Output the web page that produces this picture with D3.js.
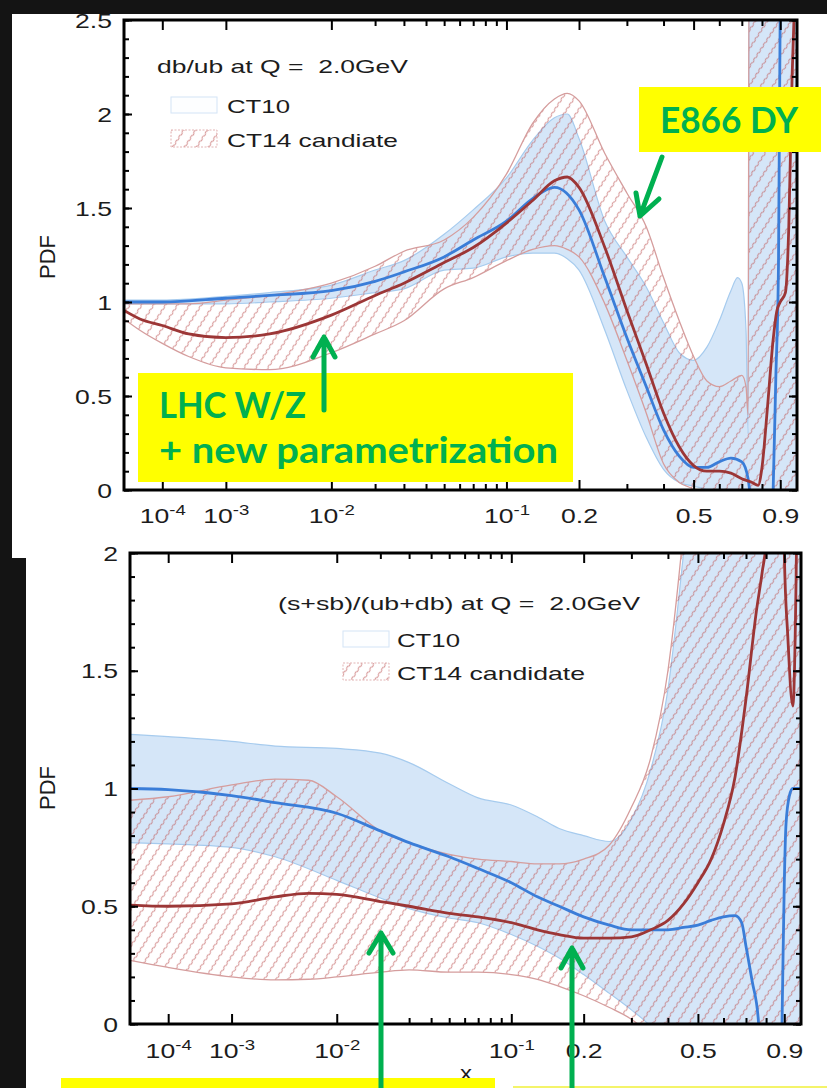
<!DOCTYPE html>
<html>
<head>
<style>
  body { margin: 0; background: #141414; }
  svg text { font-family: "Liberation Sans", Arial, sans-serif; fill: #1c1c1c; }
  svg text.note { font-family: Lato, "Noto Sans", sans-serif; font-weight: bold; fill: #00b050; }
</style>
<script src="https://d3js.org/d3.v7.min.js"></script>
</head>
<body>
<svg width="827" height="1088"></svg>
<script>
// ---------- db/ub panel (top) ----------
var dbubCT10X  = [1e-5, 1e-4, 1e-3, 3e-3, 0.01, 0.02, 0.03, 0.05, 0.07, 0.1, 0.13, 0.16, 0.18, 0.2, 0.25, 0.3, 0.35, 0.4, 0.45, 0.5, 0.55, 0.6, 0.65, 0.68, 0.7, 0.72, 0.73, 0.735, 0.8, 0.9, 1];
var dbubCT10Hi = [1.01, 1.01, 1.03, 1.05, 1.09, 1.17, 1.22, 1.36, 1.49, 1.66, 1.86, 1.98, 2.0, 1.87, 1.43, 1.24, 1.08, 0.89, 0.73, 0.69, 0.76, 0.90, 1.06, 1.13, 1.10, 0.85, 0.3, 3.0, 3.0, 3.0, 3.0];
var dbubCT10Lo = [0.99, 0.99, 0.99, 1.0, 1.02, 1.05, 1.07, 1.17, 1.18, 1.24, 1.26, 1.26, 1.23, 1.17, 0.85, 0.53, 0.28, 0.11, 0.04, 0.02, 0.0, -0.1, -0.2, -0.2, -0.2, -0.2, -0.2, -0.2, -0.2, -0.2, -0.2];
var dbubCT10MidX = [1e-5, 1e-4, 1e-3, 3e-3, 0.01, 0.02, 0.03, 0.05, 0.07, 0.1, 0.13, 0.16, 0.2, 0.25, 0.3, 0.35, 0.4, 0.45, 0.5, 0.55, 0.6, 0.65, 0.7, 0.73, 0.76, 0.8, 0.86, 0.875, 0.89, 0.9, 0.95, 1];
var dbubCT10Mid  = [1.0, 1.0, 1.02, 1.035, 1.06, 1.11, 1.16, 1.24, 1.33, 1.43, 1.55, 1.61, 1.49, 1.13, 0.81, 0.55, 0.32, 0.18, 0.12, 0.12, 0.15, 0.17, 0.15, 0.06, -0.3, -1.0, 0.0, 0.6, 1.2, 2.6, 5, 5];
var dbubCT14X  = [1e-5, 3e-5, 1e-4, 3e-4, 1e-3, 3e-3, 0.01, 0.02, 0.03, 0.05, 0.07, 0.1, 0.13, 0.16, 0.18, 0.2, 0.25, 0.3, 0.35, 0.4, 0.45, 0.5, 0.55, 0.6, 0.65, 0.7, 0.72, 0.73, 0.735, 0.8, 0.9, 1];
var dbubCT14Hi = [0.99, 0.99, 0.99, 0.99, 1.01, 1.035, 1.10, 1.19, 1.27, 1.33, 1.45, 1.68, 1.95, 2.08, 2.11, 2.07, 1.79, 1.58, 1.40, 1.13, 0.90, 0.71, 0.58, 0.55, 0.58, 0.61, 0.55, 0.4, 3.0, 3.0, 3.0, 3.0];
var dbubCT14Lo = [0.91, 0.85, 0.78, 0.71, 0.65, 0.64, 0.73, 0.83, 0.90, 1.07, 1.13, 1.22, 1.28, 1.30, 1.28, 1.24, 0.99, 0.69, 0.41, 0.14, 0.04, 0.0, -0.1, -0.2, -0.2, -0.2, -0.2, -0.2, -0.2, -0.2, -0.2, -0.2];
var dbubCT14MidX = [1e-5, 3e-5, 1e-4, 3e-4, 1e-3, 3e-3, 0.01, 0.02, 0.03, 0.05, 0.07, 0.1, 0.13, 0.16, 0.18, 0.2, 0.25, 0.3, 0.35, 0.4, 0.45, 0.5, 0.55, 0.6, 0.65, 0.7, 0.75, 0.78, 0.8, 0.83, 0.86, 0.88, 0.9, 0.93, 0.95, 0.97, 1];
var dbubCT14Mid  = [0.955, 0.91, 0.875, 0.83, 0.81, 0.83, 0.93, 1.035, 1.10, 1.21, 1.29, 1.42, 1.54, 1.645, 1.665, 1.61, 1.29, 0.955, 0.67, 0.41, 0.23, 0.13, 0.10, 0.10, 0.09, 0.06, 0.04, 0.025, 0.12, 0.45, 0.8, 0.95, 1.0, 1.05, 1.4, 2.2, 3.0];

// ---------- (s+sb)/(ub+db) panel (bottom) ----------
var ssCT10X  = [1e-5, 1e-4, 1e-3, 3e-3, 0.01, 0.02, 0.03, 0.05, 0.07, 0.1, 0.13, 0.16, 0.2, 0.25, 0.3, 0.35, 0.4, 0.45, 0.5, 0.6, 0.8, 1];
var ssCT10Hi = [1.23, 1.22, 1.20, 1.18, 1.17, 1.15, 1.11, 1.02, 0.96, 0.93, 0.88, 0.83, 0.80, 0.775, 0.87, 1.08, 1.42, 2.0, 2.6, 3, 3, 3];
var ssCT10Lo = [0.77, 0.765, 0.75, 0.71, 0.61, 0.535, 0.49, 0.45, 0.43, 0.38, 0.33, 0.28, 0.21, 0.13, 0.06, -0.01, -0.1, -0.2, -0.2, -0.2, -0.2, -0.2];
var ssCT10MidX = [1e-5, 1e-4, 1e-3, 3e-3, 0.01, 0.02, 0.03, 0.05, 0.07, 0.1, 0.13, 0.16, 0.2, 0.25, 0.3, 0.35, 0.4, 0.45, 0.5, 0.55, 0.6, 0.65, 0.68, 0.7, 0.73, 0.76, 0.8, 0.88, 0.89, 0.9, 0.91, 0.93, 0.95, 1];
var ssCT10Mid  = [1.0, 0.995, 0.97, 0.94, 0.895, 0.82, 0.77, 0.71, 0.66, 0.60, 0.54, 0.50, 0.455, 0.42, 0.40, 0.40, 0.40, 0.41, 0.42, 0.44, 0.455, 0.46, 0.43, 0.33, 0.18, 0.02, -0.8, -0.3, 0.15, 0.6, 0.85, 0.97, 1.0, 1.0];
var ssCT14X  = [1e-5, 1e-4, 1e-3, 3e-3, 0.006, 0.01, 0.02, 0.03, 0.05, 0.07, 0.1, 0.13, 0.16, 0.2, 0.25, 0.3, 0.35, 0.4, 0.45, 0.5, 0.6, 0.8, 1];
var ssCT14Hi = [0.95, 0.965, 1.015, 1.04, 1.035, 0.965, 0.82, 0.77, 0.72, 0.70, 0.69, 0.68, 0.68, 0.70, 0.76, 0.92, 1.13, 1.5, 2.1, 2.8, 3, 3, 3];
var ssCT14Lo = [0.27, 0.24, 0.20, 0.187, 0.19, 0.20, 0.22, 0.23, 0.22, 0.22, 0.21, 0.19, 0.16, 0.12, 0.07, 0.02, -0.05, -0.15, -0.2, -0.2, -0.2, -0.2, -0.2];
var ssCT14MidX = [1e-5, 1e-4, 1e-3, 3e-3, 0.006, 0.01, 0.02, 0.03, 0.05, 0.07, 0.1, 0.13, 0.16, 0.2, 0.25, 0.3, 0.35, 0.4, 0.45, 0.5, 0.55, 0.6, 0.65, 0.7, 0.75, 0.78, 0.8, 0.82, 0.87, 0.89, 0.9, 0.92, 0.95, 0.97, 0.98, 1];
var ssCT14Mid  = [0.505, 0.50, 0.51, 0.54, 0.555, 0.55, 0.52, 0.50, 0.47, 0.455, 0.43, 0.40, 0.38, 0.365, 0.365, 0.37, 0.40, 0.44, 0.51, 0.60, 0.70, 0.85, 1.05, 1.38, 1.75, 1.92, 2.05, 2.6, 4, 2.6, 2.0, 1.65, 1.35, 1.9, 2.5, 3];

// ---------- ticks ----------
var xMajorTicks = [1e-4, 1e-3, 1e-2, 0.1, 0.2, 0.5, 0.9];
var xMinorTicks = [0.02, 0.03, 0.04, 0.05, 0.06, 0.07, 0.08, 0.09, 0.3, 0.4, 0.6, 0.7, 0.8];
var yTicksTop = [0, 0.5, 1, 1.5, 2, 2.5];
var yTicksBottom = [0, 0.5, 1, 1.5, 2];

var svg = d3.select("svg");
var defs = svg.append("defs");

// wavy hatch used for the CT14 bands
var hatch = defs.append("pattern").attr("id", "hatch")
    .attr("patternUnits", "userSpaceOnUse")
    .attr("width", 10).attr("height", 6)
    .attr("patternTransform", "rotate(33)");
hatch.append("path")
    .attr("d", "M5,0 C5.8,1.5 5.8,1.5 5,3 C4.2,4.5 4.2,4.5 5,6")
    .attr("fill", "none").attr("stroke", "#c05a5a").attr("stroke-width", 0.8);

// background and the two white sheets
svg.append("rect").attr("width", 827).attr("height", 1088).attr("fill", "#141414");
var sheets = [
    {id: "sheetTop", x: 12, y: 14, w: 815, h: 544},
    {id: "sheetBottom", x: 26, y: 540, w: 801, h: 548}
];
sheets.forEach(function(s) {
    svg.append("rect").attr("x", s.x).attr("y", s.y).attr("width", s.w).attr("height", s.h).attr("fill", "#fff");
    defs.append("clipPath").attr("id", s.id).append("rect")
        .attr("x", s.x).attr("y", s.y).attr("width", s.w).attr("height", s.h);
});

// legend text: stretched to the measured width
function fitted(sel, x, y, str, size, width) {
    return sel.append("text")
        .attr("x", x).attr("y", y)
        .attr("font-size", size)
        .attr("textLength", width).attr("lengthAdjust", "spacingAndGlyphs")
        .style("white-space", "pre")
        .text(str);
}

function drawPanel(p) {
    var g = svg.append("g").attr("clip-path", "url(#" + p.sheet + ")");
    var x = d3.scalePow().exponent(0.22).domain([1e-5, 1]).range([p.left, p.right]);
    var y = d3.scaleLinear().domain([0, p.ymax]).range([p.bottom, p.top]);

    defs.append("clipPath").attr("id", p.id + "-plot").append("rect")
        .attr("x", p.left).attr("y", p.top)
        .attr("width", p.right - p.left).attr("height", p.bottom - p.top);
    var plot = g.append("g").attr("clip-path", "url(#" + p.id + "-plot)");

    var area = d3.area().curve(d3.curveMonotoneX)
        .x(function(d) { return x(d[0]); })
        .y0(function(d) { return y(d[1]); })
        .y1(function(d) { return y(d[2]); });
    var line = d3.line().curve(d3.curveMonotoneX)
        .x(function(d) { return x(d[0]); })
        .y(function(d) { return y(d[1]); });

    // CT10 band
    plot.append("path").attr("d", area(d3.zip(p.ct10x, p.ct10lo, p.ct10hi))).attr("fill", "#d5e6f8");
    [p.ct10hi, p.ct10lo].forEach(function(v) {
        plot.append("path").attr("d", line(d3.zip(p.ct10x, v)))
            .attr("fill", "none").attr("stroke", "#a6cbee").attr("stroke-width", 1.2);
    });
    // CT14 band
    plot.append("path").attr("d", area(d3.zip(p.ct14x, p.ct14lo, p.ct14hi))).attr("fill", "url(#hatch)");
    [p.ct14hi, p.ct14lo].forEach(function(v) {
        plot.append("path").attr("d", line(d3.zip(p.ct14x, v)))
            .attr("fill", "none").attr("stroke", "#d59d9d").attr("stroke-width", 1.3);
    });
    // central curves
    plot.append("path").attr("d", line(d3.zip(p.ct10midx, p.ct10mid)))
        .attr("fill", "none").attr("stroke", "#3a7dd8").attr("stroke-width", 2.8);
    plot.append("path").attr("d", line(d3.zip(p.ct14midx, p.ct14mid)))
        .attr("fill", "none").attr("stroke", "#9c3636").attr("stroke-width", 2.8);

    // axes
    function clean(a) {
        a.select(".domain").remove();
        a.selectAll("line").attr("stroke", "#000").attr("stroke-width", 2);
        return a;
    }
    var yMinor = d3.range(0, p.ymax + 1e-9, 0.1);

    clean(g.append("g").attr("transform", "translate(0," + p.bottom + ")")
        .call(d3.axisBottom(x).tickValues(xMinorTicks).tickSize(-6).tickFormat("")));
    clean(g.append("g").attr("transform", "translate(0," + p.top + ")")
        .call(d3.axisTop(x).tickValues(xMinorTicks).tickSize(-6).tickFormat("")));
    clean(g.append("g").attr("transform", "translate(0," + p.top + ")")
        .call(d3.axisTop(x).tickValues(xMajorTicks).tickSize(-10).tickFormat("")));
    var bx = clean(g.append("g").attr("transform", "translate(0," + p.bottom + ")")
        .call(d3.axisBottom(x).tickValues(xMajorTicks).tickSize(-10)
            .tickFormat(function(d) { return d >= 0.2 ? String(d) : "10"; })));
    bx.selectAll("text")
        .attr("y", p.xLabelY).attr("dy", 0)
        .attr("font-size", 20)
        .attr("transform", "scale(1.33,1)")
        .each(function(d) {
            if (d < 0.2) {
                d3.select(this).append("tspan").attr("dy", -8).attr("font-size", 14)
                    .text(String(Math.round(Math.log10(d))));
            }
        });

    clean(g.append("g").attr("transform", "translate(" + p.left + ",0)")
        .call(d3.axisLeft(y).tickValues(yMinor).tickSize(-5).tickFormat("")));
    clean(g.append("g").attr("transform", "translate(" + p.right + ",0)")
        .call(d3.axisRight(y).tickValues(yMinor).tickSize(-5).tickFormat("")));
    clean(g.append("g").attr("transform", "translate(" + p.right + ",0)")
        .call(d3.axisRight(y).tickValues(p.yTicks).tickSize(-8).tickFormat("")));
    var ly = clean(g.append("g").attr("transform", "translate(" + p.left + ",0)")
        .call(d3.axisLeft(y).tickValues(p.yTicks).tickSize(-8).tickFormat(d3.format(""))));
    ly.selectAll("text").attr("x", -9).attr("dy", "0.36em").attr("font-size", 20)
        .attr("transform", "scale(1.33,1)");

    g.append("rect").attr("x", p.left).attr("y", p.top)
        .attr("width", p.right - p.left).attr("height", p.bottom - p.top)
        .attr("fill", "none").attr("stroke", "#000").attr("stroke-width", 3);

    g.append("text").attr("transform", "translate(55," + p.pdfY + ") rotate(-90)")
        .attr("text-anchor", "middle").attr("font-size", 22).text("PDF");

    // legend
    var L = p.legend;
    fitted(g, L.titleX, L.titleY, L.title, 19, L.titleW);
    g.append("rect").attr("x", L.boxX).attr("y", L.row1 - 16).attr("width", 46).attr("height", 16)
        .attr("fill", "#fdfeff").attr("stroke", "#d3e4f6").attr("stroke-width", 1);
    fitted(g, L.textX, L.row1, "CT10", 19, 63);
    g.append("rect").attr("x", L.boxX).attr("y", L.row2 - 17).attr("width", 46).attr("height", 17)
        .attr("fill", "url(#hatch)").attr("stroke", "#e2b3b3").attr("stroke-width", 1)
        .attr("stroke-dasharray", "2,1.5");
    fitted(g, L.textX, L.row2, L.ct14, 19, L.ct14W);
    return g;
}

drawPanel({
    id: "top", sheet: "sheetTop",
    left: 124, right: 797, top: 20, bottom: 490, ymax: 2.5, yTicks: yTicksTop,
    xLabelY: 33, pdfY: 257,
    ct10x: dbubCT10X, ct10hi: dbubCT10Hi, ct10lo: dbubCT10Lo,
    ct10midx: dbubCT10MidX, ct10mid: dbubCT10Mid,
    ct14x: dbubCT14X, ct14hi: dbubCT14Hi, ct14lo: dbubCT14Lo,
    ct14midx: dbubCT14MidX, ct14mid: dbubCT14Mid,
    legend: {title: "db/ub at Q =  2.0GeV", titleX: 157, titleY: 73, titleW: 251,
             boxX: 171, textX: 227, row1: 113, row2: 147, ct14: "CT14 candiate", ct14W: 171}
});

var bottomPanel = drawPanel({
    id: "bottom", sheet: "sheetBottom",
    left: 130, right: 801, top: 553, bottom: 1024, ymax: 2, yTicks: yTicksBottom,
    xLabelY: 34, pdfY: 788,
    ct10x: ssCT10X, ct10hi: ssCT10Hi, ct10lo: ssCT10Lo,
    ct10midx: ssCT10MidX, ct10mid: ssCT10Mid,
    ct14x: ssCT14X, ct14hi: ssCT14Hi, ct14lo: ssCT14Lo,
    ct14midx: ssCT14MidX, ct14mid: ssCT14Mid,
    legend: {title: "(s+sb)/(ub+db) at Q =  2.0GeV", titleX: 278, titleY: 610, titleW: 362,
             boxX: 343, textX: 397, row1: 647, row2: 680, ct14: "CT14 candidate", ct14W: 188}
});
fitted(bottomPanel, 460, 1080, "x", 20, 12);

// ---------- annotations ----------
var notes = svg.append("g");
var green = "#00b050";
notes.append("rect").attr("x", 639).attr("y", 87).attr("width", 182).attr("height", 65).attr("fill", "#ffff00");
notes.append("text").attr("class", "note").attr("x", 660).attr("y", 133).attr("font-size", 36)
    .attr("textLength", 138).attr("lengthAdjust", "spacingAndGlyphs").text("E866 DY");

notes.append("rect").attr("x", 138).attr("y", 373).attr("width", 435).attr("height", 109).attr("fill", "#ffff00");
notes.append("text").attr("class", "note").attr("x", 159).attr("y", 418).attr("font-size", 36)
    .attr("textLength", 147).attr("lengthAdjust", "spacingAndGlyphs").text("LHC W/Z");
notes.append("text").attr("class", "note").attr("x", 159).attr("y", 463).attr("font-size", 36)
    .attr("textLength", 399).attr("lengthAdjust", "spacingAndGlyphs").text("+ new parametrization");

notes.append("rect").attr("x", 61).attr("y", 1078).attr("width", 434).attr("height", 10).attr("fill", "#ffff00");
notes.append("rect").attr("x", 513).attr("y", 1086).attr("width", 314).attr("height", 2).attr("fill", "#f4f46a");

var arrows = [
    {from: [662, 157], tip: [640, 216], head: [[636, 193], [659, 199]]},
    {from: [324, 410], tip: [324, 337], head: [[313, 357], [335, 357]]},
    {from: [381, 1090], tip: [381, 933], head: [[369, 953], [393, 953]]},
    {from: [572, 1090], tip: [572, 948], head: [[561, 968], [583, 968]]}
];
arrows.forEach(function(a) {
    notes.append("path")
        .attr("d", d3.line()([a.from, a.tip]) + "M" + a.head[0] + "L" + a.tip + "L" + a.head[1])
        .attr("fill", "none").attr("stroke", green).attr("stroke-width", 5)
        .attr("stroke-linecap", "round").attr("stroke-linejoin", "round");
});
</script>
</body>
</html>
